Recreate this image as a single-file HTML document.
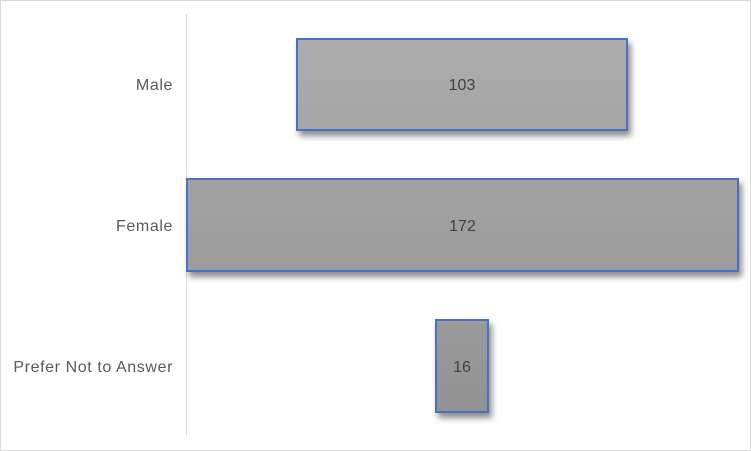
<!DOCTYPE html>
<html><head><style>
body{margin:0;width:751px;height:451px;background:#fff;position:relative;font-family:"Liberation Sans",sans-serif;overflow:hidden}
.frame{position:absolute;left:0;top:0;width:749px;height:449px;border:1px solid #d9d9d9}
.axis{position:absolute;left:186px;top:14px;width:1px;height:422px;background:#d9d9d9}
.bar{position:absolute;box-sizing:border-box;border:2px solid #4472c4;box-shadow:3px 5px 6px rgba(0,0,0,0.45);display:flex;align-items:center;justify-content:center;font-size:16px;color:#404040;padding-top:3px}
.lbl{position:absolute;right:578px;font-size:16px;letter-spacing:0.6px;color:#595959;text-align:right;white-space:nowrap}
</style></head><body>
<div class="frame"></div>
<div class="axis"></div>
<div class="lbl" style="top:77px">Male</div>
<div class="lbl" style="top:218px">Female</div>
<div class="lbl" style="top:359px">Prefer Not to Answer</div>
<div class="bar" style="left:296px;top:38px;width:332px;height:93px;background:linear-gradient(#acacac,#a6a6a6)">103</div>
<div class="bar" style="left:186px;top:178px;width:553px;height:94px;background:linear-gradient(#a2a2a2,#9c9c9c)">172</div>
<div class="bar" style="left:435px;top:319px;width:54px;height:94px;background:linear-gradient(#999,#939393)">16</div>
</body></html>
